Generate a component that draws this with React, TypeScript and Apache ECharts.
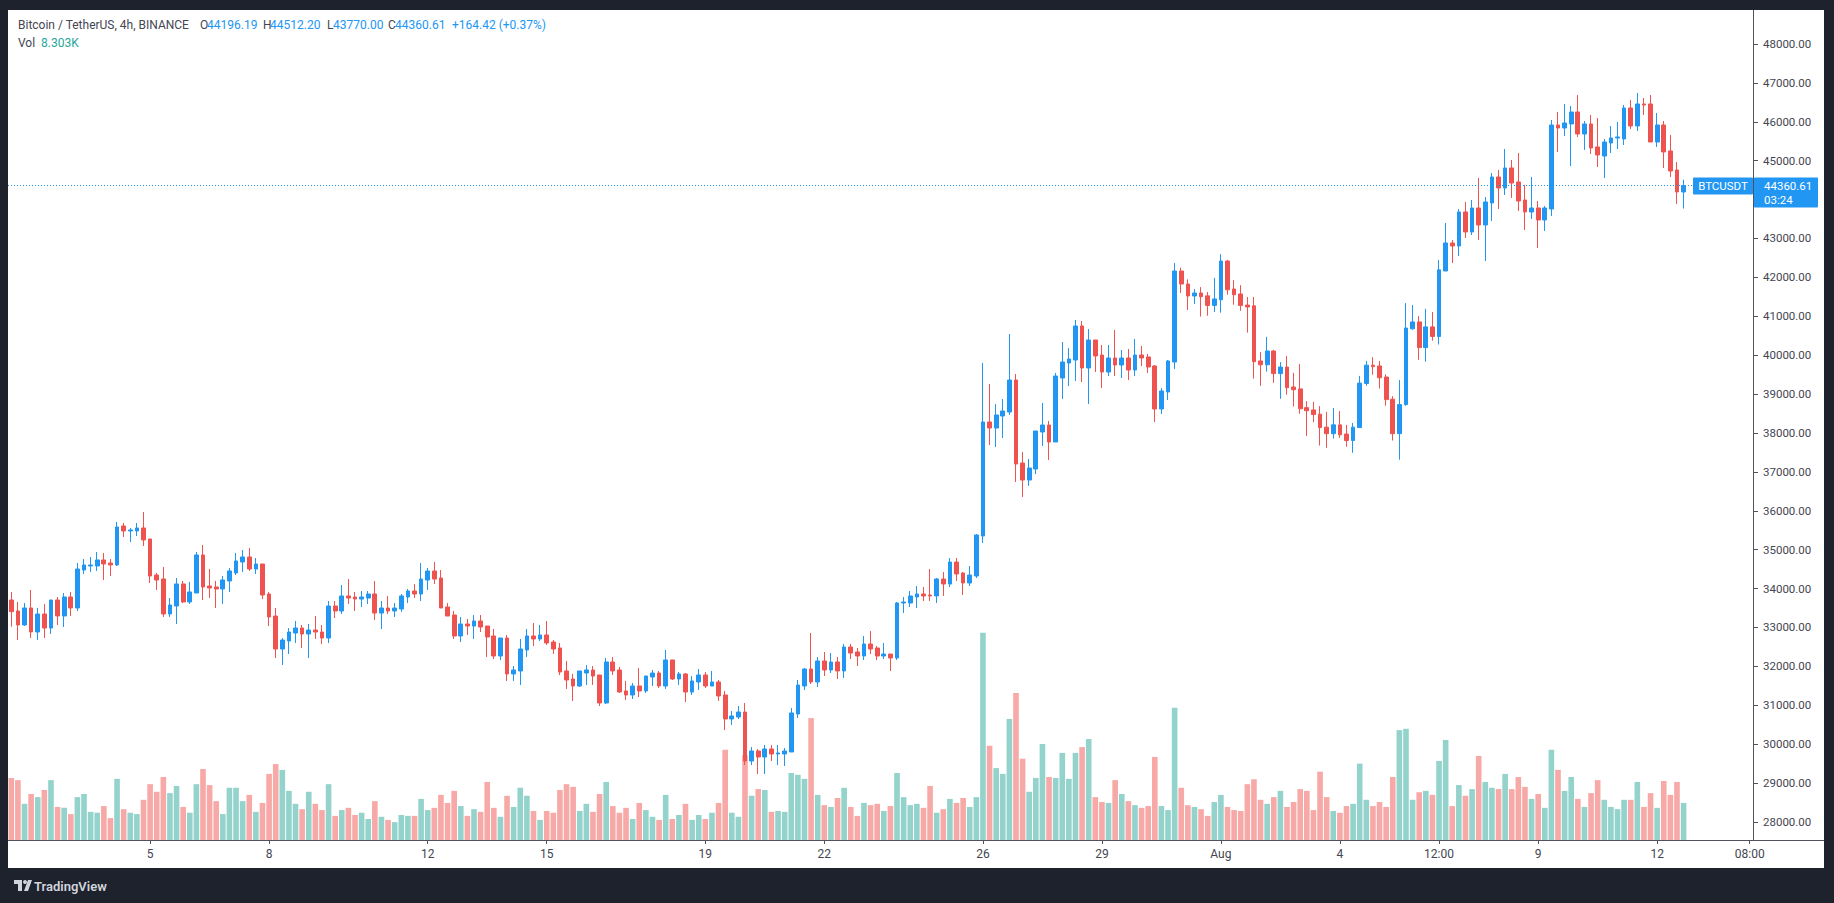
import React, { useEffect, useRef } from "react";
import * as echarts from "echarts";

// ---- data ----
const START_UTC = Date.UTC(2021, 6, 1, 12, 0); // first visible 4h candle
const STEP_HOURS = 4;
const SLOT_COUNT = 264; // candles + empty space on the right

// [open, high, low, close]
const ohlc: [number, number, number, number][] = [
  [33707, 33913, 33022, 33407], [33424, 33656, 32679, 33065], [33065, 33630, 33040, 33502], [33502, 33964, 32730, 32885],
  [32885, 33502, 32679, 33347], [33347, 33604, 32730, 32987], [32987, 33707, 32833, 33707], [33707, 33784, 33065, 33296],
  [33296, 33887, 33013, 33784], [33784, 33913, 33296, 33502], [33502, 34658, 33424, 34504], [34478, 34761, 34376, 34607],
  [34581, 34813, 34427, 34607], [34581, 34941, 34453, 34736], [34736, 34916, 34221, 34633], [34658, 34761, 34324, 34607],
  [34607, 35712, 34581, 35584], [35610, 35687, 35327, 35481], [35481, 35558, 35198, 35507], [35481, 35687, 35352, 35558],
  [35558, 35969, 35095, 35250], [35275, 35275, 34144, 34324], [34350, 34401, 33964, 34221], [34247, 34556, 33270, 33347],
  [33347, 33759, 33270, 33579], [33553, 34273, 33090, 34119], [34119, 34196, 33630, 33656], [33656, 34170, 33604, 33913],
  [33887, 34941, 33887, 34864], [34864, 35121, 33707, 34041], [34067, 34504, 33759, 34016], [34041, 34196, 33502, 33990],
  [33990, 34324, 33604, 34221], [34196, 34530, 33913, 34453], [34401, 34916, 34350, 34710], [34684, 34993, 34427, 34813],
  [34813, 35044, 34453, 34504], [34503, 34786, 34375, 34632], [34632, 34632, 33732, 33835], [33861, 33912, 33038, 33270],
  [33295, 33501, 32216, 32447], [32447, 32730, 32036, 32678], [32653, 32987, 32318, 32884], [32858, 33167, 32601, 32987],
  [32987, 33064, 32473, 32833], [32833, 33090, 32216, 32935], [32935, 33295, 32704, 32884], [32884, 33064, 32576, 32730],
  [32730, 33681, 32601, 33552], [33552, 33681, 33244, 33424], [33424, 34092, 33347, 33810], [33810, 34246, 33604, 33758],
  [33784, 33912, 33424, 33732], [33732, 33938, 33527, 33784], [33758, 33938, 33604, 33861], [33861, 34195, 33193, 33372],
  [33372, 33681, 32961, 33501], [33501, 33810, 33347, 33424], [33424, 33630, 33270, 33501], [33475, 33861, 33398, 33810],
  [33784, 33989, 33630, 33938], [33938, 34118, 33758, 33861], [33861, 34658, 33681, 34246], [34221, 34529, 33964, 34452],
  [34452, 34683, 34118, 34246], [34272, 34478, 33501, 33501], [33527, 33630, 33295, 33295], [33321, 33424, 32704, 32781],
  [32781, 33270, 32627, 33090], [33090, 33218, 32807, 33038], [33038, 33321, 32704, 33167], [33167, 33321, 32884, 33013],
  [33038, 33038, 32241, 32756], [32782, 32962, 32190, 32267], [32267, 32730, 32165, 32730], [32730, 32807, 31625, 31805],
  [31805, 32010, 31625, 31908], [31882, 32704, 31522, 32447], [32422, 32962, 32242, 32782], [32782, 33116, 32524, 32704],
  [32704, 33064, 32653, 32807], [32807, 33167, 32550, 32602], [32627, 32679, 32319, 32447], [32473, 32602, 31779, 31856],
  [31882, 32139, 31419, 31651], [31676, 31805, 31111, 31496], [31496, 31882, 31470, 31882], [31830, 32036, 31522, 31908],
  [31908, 32010, 31522, 31753], [31779, 31779, 30982, 31059], [31059, 32216, 31034, 32113], [32113, 32242, 31779, 31882],
  [31908, 31985, 31316, 31342], [31368, 31625, 31136, 31265], [31265, 31573, 31162, 31496], [31496, 31959, 31213, 31368],
  [31368, 31753, 31316, 31753], [31728, 31908, 31496, 31830], [31830, 31882, 31445, 31496], [31496, 32422, 31419, 32165],
  [32165, 32165, 31650, 31676], [31676, 31856, 31522, 31805], [31805, 31830, 31085, 31342], [31342, 31753, 31265, 31625],
  [31599, 31933, 31393, 31779], [31779, 31856, 31445, 31496], [31496, 31882, 31496, 31599], [31599, 31650, 31111, 31239],
  [31265, 31368, 30365, 30648], [30648, 30854, 30494, 30725], [30699, 30982, 30647, 30827], [30827, 31059, 29465, 29568],
  [29568, 29928, 29465, 29825], [29825, 29877, 29234, 29671], [29671, 29979, 29234, 29877], [29877, 29979, 29568, 29748],
  [29748, 29979, 29465, 29774], [29748, 29902, 29440, 29825], [29800, 30930, 29800, 30802], [30776, 31650, 30673, 31522],
  [31496, 31959, 31393, 31933], [31933, 32858, 31547, 31599], [31599, 32241, 31470, 32139], [32139, 32370, 31753, 31907],
  [31907, 32344, 31830, 32113], [32113, 32241, 31676, 31882], [31882, 32576, 31702, 32498], [32498, 32576, 32190, 32344],
  [32370, 32473, 32010, 32267], [32267, 32781, 32164, 32576], [32576, 32910, 32318, 32447], [32473, 32524, 32164, 32267],
  [32267, 32601, 32190, 32318], [32318, 32318, 31882, 32216], [32216, 33655, 32164, 33630], [33630, 33784, 33372, 33655],
  [33630, 33938, 33527, 33810], [33784, 34066, 33501, 33861], [33861, 34041, 33681, 33810], [33835, 34503, 33681, 33810],
  [33810, 34272, 33630, 34246], [34246, 34426, 33810, 34118], [34118, 34786, 34041, 34683], [34683, 34786, 34195, 34375],
  [34401, 34426, 33835, 34144], [34144, 34581, 34067, 34349], [34324, 35403, 34272, 35378], [35352, 39799, 35172, 38283],
  [38283, 39260, 37691, 38128], [38128, 38745, 37640, 38463], [38437, 38874, 37871, 38565], [38540, 40545, 38463, 39362],
  [39362, 39517, 36740, 37203], [37228, 37511, 36354, 36791], [36791, 37332, 36637, 37100], [37074, 38051, 36945, 38051],
  [38026, 38771, 37665, 38205], [38205, 38308, 37306, 37768], [37769, 39542, 37769, 39465], [39414, 40339, 38874, 39825],
  [39799, 40185, 39208, 39902], [39877, 40905, 39337, 40751], [40751, 40879, 39311, 39671], [39671, 40673, 38745, 40391],
  [40391, 40391, 39568, 39979], [40005, 40262, 39157, 39568], [39568, 40262, 39465, 39928], [39928, 40648, 39465, 39748],
  [39748, 40134, 39414, 39928], [39928, 40159, 39362, 39620], [39620, 40416, 39465, 40005], [40005, 40236, 39722, 39928],
  [39954, 40031, 39542, 39697], [39722, 39748, 38283, 38617], [38617, 39157, 38488, 39080], [39054, 39877, 38848, 39851],
  [39825, 42370, 39645, 42164], [42164, 42250, 41600, 41830], [41830, 41950, 41162, 41522], [41522, 41700, 41316, 41599],
  [41599, 41751, 40993, 41505], [41525, 41623, 41013, 41279], [41279, 41987, 41111, 41446], [41426, 42597, 41092, 42420],
  [42420, 42449, 41554, 41682], [41702, 41928, 41298, 41554], [41574, 41800, 41141, 41279], [41289, 41495, 40580, 41239],
  [41269, 41495, 39399, 39833], [39852, 40078, 39213, 39754], [39754, 40472, 39577, 40108], [40108, 40137, 39291, 39527],
  [39527, 39823, 38878, 39695], [39695, 39980, 38986, 39164], [39183, 39547, 38681, 39114], [39134, 39774, 38494, 38622],
  [38652, 38819, 37924, 38573], [38593, 38800, 38278, 38475], [38485, 38691, 37678, 38140], [38150, 38544, 37619, 37983],
  [37983, 38642, 37855, 38209], [38209, 38563, 37875, 37953], [37973, 38209, 37648, 37806], [37806, 38258, 37491, 38150],
  [38140, 39468, 38140, 39282], [39272, 39852, 39213, 39744], [39744, 39951, 39498, 39705], [39724, 39852, 39144, 39419],
  [39439, 39508, 38701, 38858], [38868, 38947, 37806, 37983], [37983, 39360, 37314, 38730], [38730, 41338, 38701, 40698],
  [40678, 41289, 40659, 40855], [40855, 41003, 39882, 40196], [40196, 41190, 39833, 40728], [40728, 41111, 40374, 40482],
  [40482, 42449, 40275, 42194], [42165, 43399, 42165, 42885], [42885, 42962, 42371, 42808], [42808, 43759, 42551, 43682],
  [43682, 43939, 43013, 43168], [43168, 43990, 43090, 43784], [43784, 44556, 42962, 43348], [43348, 44067, 42422, 43939],
  [43913, 44684, 43450, 44581], [44581, 44761, 43759, 44299], [44299, 45301, 44119, 44813], [44813, 45018, 44042, 44427],
  [44453, 45198, 43707, 43964], [43990, 44376, 43219, 43682], [43682, 44581, 43502, 43784], [43784, 43965, 42756, 43476],
  [43476, 43836, 43193, 43784], [43759, 46047, 43579, 45918], [45918, 46252, 45224, 45841], [45841, 46458, 45635, 45970],
  [45944, 46407, 44864, 46252], [46252, 46689, 45610, 45687], [45687, 46021, 45276, 45944], [45944, 46175, 45173, 45327],
  [45353, 46098, 44839, 45147], [45121, 45558, 44556, 45481], [45455, 45892, 45198, 45584], [45584, 45995, 45301, 45610],
  [45558, 46432, 45404, 46355], [46355, 46561, 45815, 45893], [45893, 46741, 45764, 46458], [46458, 46612, 46175, 46432],
  [46458, 46689, 45481, 45481], [45481, 46227, 45353, 45918], [45918, 46021, 44813, 45224], [45250, 45661, 44581, 44736],
  [44761, 44967, 43887, 44196.19], [44196.19, 44512.2, 43770.0, 44360.61],
];

// volume, thousands of BTC
const volumes: number[] = [
  13.9, 13.4, 8.1, 10.3, 9.6, 11.2, 13.4, 7.4, 7.2, 5.8, 9.6, 10.3, 6.3, 6.1, 7.6, 4.9, 13.7, 6.9, 6.1, 5.8,
  9.0, 12.5, 10.8, 14.1, 10.5, 12.1, 7.4, 6.1, 12.5, 15.9, 12.3, 8.7, 5.8, 11.7, 11.7, 8.7, 10.1, 6.3, 8.3, 14.8,
  17.0, 15.7, 11.0, 8.1, 6.9, 10.8, 8.1, 6.7, 12.5, 5.4, 6.7, 7.2, 5.6, 6.1, 4.7, 8.7, 5.2, 4.5, 4.0, 5.6,
  5.4, 5.4, 9.2, 6.7, 7.2, 10.1, 8.3, 11.0, 7.6, 5.4, 6.9, 6.3, 13.0, 7.2, 5.2, 9.9, 7.4, 11.7, 9.9, 6.5,
  4.5, 6.5, 6.1, 11.2, 12.5, 11.9, 6.5, 8.1, 6.3, 10.3, 13.0, 7.6, 6.1, 7.2, 4.7, 8.3, 6.7, 5.2, 4.5, 10.1,
  4.7, 5.6, 8.1, 4.5, 5.6, 4.7, 6.1, 8.3, 20.2, 6.1, 5.2, 19.0, 9.9, 11.4, 11.2, 6.3, 6.5, 6.3, 15.0, 14.6,
  13.7, 27.3, 10.1, 7.8, 7.4, 9.4, 11.7, 7.4, 5.4, 8.3, 7.8, 8.1, 6.5, 7.6, 15.0, 9.6, 7.8, 8.1, 7.2, 12.1,
  6.1, 6.9, 9.2, 8.3, 9.4, 7.4, 9.6, 46.4, 21.1, 16.1, 14.8, 27.1, 32.9, 18.2, 10.8, 13.9, 21.5, 14.1, 13.9, 19.5,
  13.7, 19.5, 20.8, 22.6, 9.6, 8.5, 8.3, 13.4, 10.3, 8.7, 7.8, 7.2, 7.6, 18.6, 7.6, 6.7, 29.6, 11.7, 7.8, 7.4,
  6.9, 5.4, 8.5, 10.1, 7.4, 6.7, 6.5, 12.5, 13.6, 9.0, 8.1, 9.6, 11.0, 7.4, 8.5, 11.4, 11.0, 6.7, 15.3, 9.6,
  6.5, 6.1, 7.6, 8.1, 17.1, 9.0, 7.6, 8.5, 7.4, 14.1, 24.6, 24.9, 9.0, 10.7, 11.0, 10.1, 17.7, 22.4, 7.6, 12.3,
  9.9, 11.4, 18.8, 13.0, 11.7, 11.4, 14.8, 11.4, 14.1, 11.9, 9.2, 10.3, 7.2, 20.2, 15.7, 11.0, 14.1, 9.2, 7.4, 10.5,
  13.4, 9.0, 7.4, 6.9, 9.0, 9.0, 13.0, 7.4, 10.5, 7.2, 13.2, 10.1, 13.0, 8.303,
];

const priceTicks: number[] = [
  28000, 29000, 30000, 31000, 32000, 33000, 34000, 35000, 36000, 37000, 38000,
  39000, 40000, 41000, 42000, 43000, 44000, 45000, 46000, 47000, 48000,
];

const timeTicks: [string, string][] = [
  ["2021-07-05 00:00", "5"], ["2021-07-08 00:00", "8"], ["2021-07-12 00:00", "12"],
  ["2021-07-15 00:00", "15"], ["2021-07-19 00:00", "19"], ["2021-07-22 00:00", "22"],
  ["2021-07-26 00:00", "26"], ["2021-07-29 00:00", "29"], ["2021-08-01 00:00", "Aug"],
  ["2021-08-04 00:00", "4"], ["2021-08-06 12:00", "12:00"], ["2021-08-09 00:00", "9"],
  ["2021-08-12 00:00", "12"], ["2021-08-14 08:00", "08:00"],
];

const SYMBOL_TITLE = "Bitcoin / TetherUS, 4h, BINANCE";
const SYMBOL_TAG = "BTCUSDT";
const COUNTDOWN = "03:24";

// ---- styles ----
const UP = "#2196f3";
const DOWN = "#ef5350";
const VOL_UP = "#93d3cb";
const VOL_DOWN = "#f7a9a7";
const FRAME = "#1e222d";
const AXIS = "#50535e";
const TEXT = "#434651";
const FONT = "Roboto, 'Noto Sans', sans-serif";
const PRICE_MIN = 27537;
const PRICE_MAX = 48874;

const pad = (n: number) => String(n).padStart(2, "0");
const fmtTime = (ms: number) => {
  const d = new Date(ms);
  return `${d.getUTCFullYear()}-${pad(d.getUTCMonth() + 1)}-${pad(d.getUTCDate())} ${pad(d.getUTCHours())}:${pad(d.getUTCMinutes())}`;
};
const categories: string[] = Array.from({ length: SLOT_COUNT }, (_, i) => fmtTime(START_UTC + i * STEP_HOURS * 3600e3));
const tickMap = new Map<string, string>(timeTicks);

export default function App() {
  const ref = useRef<HTMLDivElement>(null);
  useEffect(() => {
    if (!ref.current) return;
    const chart = echarts.init(ref.current, undefined, { renderer: "svg" });
    const last = ohlc[ohlc.length - 1];
    const prevClose = ohlc[ohlc.length - 2][3];
    const lastClose = last[3];
    const change = lastClose - prevClose;
    const pct = (change / prevClose) * 100;
    const lastVol = volumes[volumes.length - 1];

    const isTick = (idx: number) => tickMap.has(categories[idx]);

    const priceLabelStyle = {
      formatter: (v: number) => v.toFixed(2),
      color: TEXT,
      fontSize: 11.5,
      fontFamily: FONT,
      margin: 10,
    };

    chart.setOption({
      animation: false,
      backgroundColor: "#ffffff",
      grid: [
        { left: 8, right: 81, top: 10, bottom: 63 },
        { left: 8, right: 81, top: 572, bottom: 63 },
      ],
      xAxis: [
        {
          type: "category",
          gridIndex: 0,
          data: categories,
          boundaryGap: true,
          axisLine: { show: false },
          axisTick: {
            show: true,
            alignWithLabel: true,
            interval: (i: number) => isTick(i),
            length: 4,
            lineStyle: { color: AXIS, width: 1 },
          },
          axisLabel: {
            interval: (i: number) => isTick(i),
            formatter: (v: string) => tickMap.get(v) || "",
            color: TEXT,
            fontSize: 12,
            fontFamily: FONT,
            margin: 8,
          },
          splitLine: { show: false },
        },
        { type: "category", gridIndex: 1, data: categories, show: false, boundaryGap: true },
      ],
      yAxis: [
        {
          type: "value",
          gridIndex: 0,
          position: "right",
          min: PRICE_MIN,
          max: PRICE_MAX,
          splitLine: { show: false },
          axisLine: { show: true, lineStyle: { color: AXIS, width: 1 } },
          axisTick: { show: true, length: 5, customValues: priceTicks, lineStyle: { color: AXIS } },
          axisLabel: { ...priceLabelStyle, customValues: priceTicks },
        },
        { type: "value", gridIndex: 1, min: 0, max: 60, show: false },
      ],
      series: [
        {
          type: "bar",
          xAxisIndex: 1,
          yAxisIndex: 1,
          barCategoryGap: "15%",
          silent: true,
          z: 1,
          data: volumes.map((v, i) => ({
            value: v,
            itemStyle: { color: ohlc[i][3] >= ohlc[i][0] ? VOL_UP : VOL_DOWN },
          })),
        },
        {
          type: "candlestick",
          xAxisIndex: 0,
          yAxisIndex: 0,
          barWidth: 4.2,
          z: 3,
          silent: true,
          itemStyle: { color: UP, color0: DOWN, borderColor: UP, borderColor0: DOWN, borderWidth: 1 },
          data: ohlc.map(([o, h, l, c]) => [o, c, l, h]),
          markLine: {
            silent: true,
            symbol: ["none", "none"],
            label: { show: false },
            lineStyle: { color: UP, type: [1, 2], width: 1 },
            data: [{ yAxis: lastClose }],
          },
        },
      ],
    });

    const yLast = chart.convertToPixel({ yAxisIndex: 0 }, lastClose) as number;
    // price labels hidden behind the last-price tag (as on the original scale)
    const visibleTicks = priceTicks.filter((p) => {
      const y = chart.convertToPixel({ yAxisIndex: 0 }, p) as number;
      return y < yLast - 16 || y > yLast + 30;
    });
    const sign = change >= 0 ? "+" : "-";
    const valColor = change >= 0 ? UP : DOWN;

    const t = (x: number, y: number, text: string, fill: string) => ({
      type: "text", x, y,
      style: { text, fill, fontSize: 12, fontFamily: FONT, verticalAlign: "middle" },
    });

    const legend: any[] = [
      t(18, 25, SYMBOL_TITLE, TEXT),
      t(200, 25, "O", TEXT), t(207, 25, last[0].toFixed(2), valColor),
      t(263, 25, "H", TEXT), t(270, 25, last[1].toFixed(2), valColor),
      t(327, 25, "L", TEXT), t(333, 25, last[2].toFixed(2), valColor),
      t(388, 25, "C", TEXT), t(395, 25, last[3].toFixed(2), valColor),
      t(452, 25, `${sign}${Math.abs(change).toFixed(2)} (${sign}${Math.abs(pct).toFixed(2)}%)`, valColor),
      t(18, 43, "Vol", TEXT),
      t(41, 43, `${lastVol.toFixed(3)}K`, "#26a69a"),
    ];

    const tags: any[] = [
      { type: "rect", z: 50, shape: { x: 1693, y: yLast - 8, width: 60, height: 17, r: 1 }, style: { fill: UP } },
      { type: "text", z: 51, x: 1723, y: yLast + 0.5, style: { text: SYMBOL_TAG, fill: "#ffffff", fontSize: 11.5, fontFamily: FONT, align: "center", verticalAlign: "middle" } },
      { type: "rect", z: 50, shape: { x: 1754, y: yLast - 8, width: 64, height: 30, r: 1 }, style: { fill: UP } },
      { type: "text", z: 51, x: 1764, y: yLast + 0.5, style: { text: lastClose.toFixed(2), fill: "#ffffff", fontSize: 11.5, fontFamily: FONT, verticalAlign: "middle" } },
      { type: "text", z: 51, x: 1764, y: yLast + 14.5, style: { text: COUNTDOWN, fill: "#ffffff", fontSize: 11.5, fontFamily: FONT, verticalAlign: "middle" } },
    ];

    const frame: any[] = [
      { type: "line", z: 40, shape: { x1: 8, y1: 840.5, x2: 1824, y2: 840.5 }, style: { stroke: AXIS, lineWidth: 1 } },
      { type: "rect", z: 90, shape: { x: 0, y: 0, width: 1834, height: 10 }, style: { fill: FRAME } },
      { type: "rect", z: 90, shape: { x: 0, y: 0, width: 8, height: 903 }, style: { fill: FRAME } },
      { type: "rect", z: 90, shape: { x: 1824, y: 0, width: 10, height: 903 }, style: { fill: FRAME } },
      { type: "rect", z: 90, shape: { x: 0, y: 868, width: 1834, height: 35 }, style: { fill: FRAME } },
      // TradingView logo
      { type: "rect", z: 91, shape: { x: 14, y: 880, width: 8, height: 4 }, style: { fill: "#d1d4dc" } },
      { type: "rect", z: 91, shape: { x: 18, y: 880, width: 4, height: 11 }, style: { fill: "#d1d4dc" } },
      { type: "circle", z: 91, shape: { cx: 25, cy: 882, r: 2 }, style: { fill: "#d1d4dc" } },
      { type: "polygon", z: 91, shape: { points: [[24, 891], [28, 880], [32, 880], [28, 891]] }, style: { fill: "#d1d4dc" } },
      { type: "text", z: 91, x: 34, y: 886, style: { text: "TradingView", fill: "#d1d4dc", fontSize: 13, fontWeight: 600, fontFamily: FONT, verticalAlign: "middle" } },
    ];

    chart.setOption({
      yAxis: [{ axisLabel: { ...priceLabelStyle, customValues: visibleTicks } }, {}],
      graphic: { elements: [...legend, ...tags, ...frame] },
    });

    return () => chart.dispose();
  }, []);

  return <div ref={ref} style={{ position: "fixed", left: 0, top: 0, width: 1834, height: 903 }} />;
}
